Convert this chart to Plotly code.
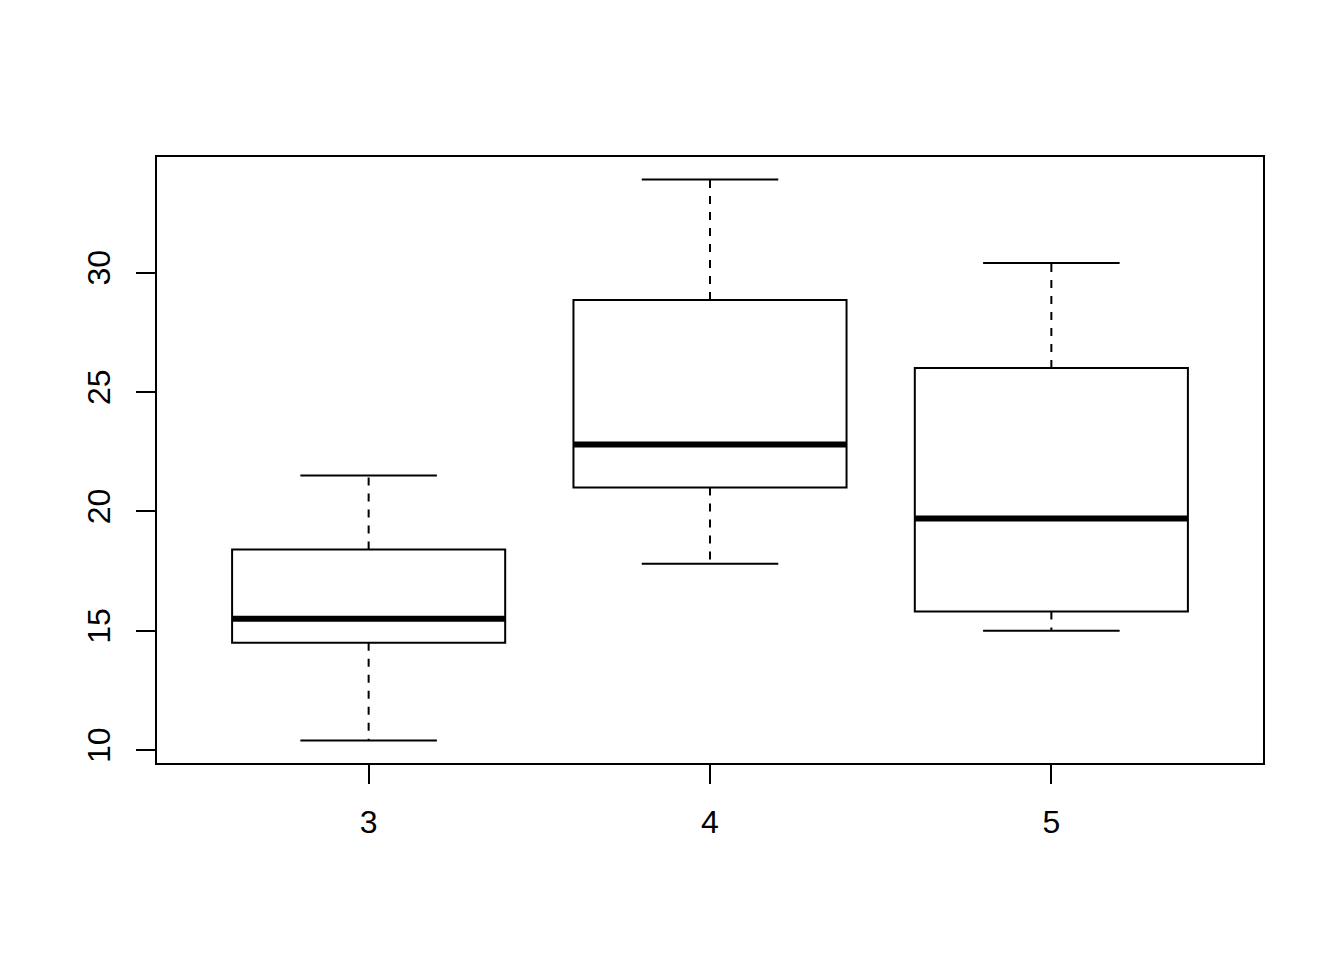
import plotly.graph_objects as go

# Data: mpg by number of gears (five-number summaries)
gears = ["3", "4", "5"]
mins = [10.4, 17.8, 15.0]
q1s = [14.5, 21.0, 15.8]
medians = [15.5, 22.8, 19.7]
q3s = [18.4, 28.85, 26.0]
maxs = [21.5, 33.9, 30.4]
yticks = [10, 15, 20, 25, 30]

pos = [1, 2, 3]
half_box = 0.4
half_cap = 0.2
black = "black"

fig = go.Figure()

for i, p in enumerate(pos):
    # box (no whiskers: fences at quartiles)
    fig.add_trace(go.Box(
        x=[p], q1=[q1s[i]], median=[medians[i]], q3=[q3s[i]],
        lowerfence=[q1s[i]], upperfence=[q3s[i]],
        width=2 * half_box, whiskerwidth=0,
        line=dict(color=black, width=2), fillcolor="white",
        showlegend=False, hoverinfo="skip",
    ))
    # dashed whiskers
    fig.add_trace(go.Scatter(
        x=[p, p, None, p, p], y=[q3s[i], maxs[i], None, q1s[i], mins[i]],
        mode="lines", line=dict(color=black, width=2, dash="8px,8px"),
        showlegend=False, hoverinfo="skip",
    ))
    # staples
    fig.add_trace(go.Scatter(
        x=[p - half_cap, p + half_cap, None, p - half_cap, p + half_cap],
        y=[maxs[i], maxs[i], None, mins[i], mins[i]],
        mode="lines", line=dict(color=black, width=2),
        showlegend=False, hoverinfo="skip",
    ))
    # thick median
    fig.add_trace(go.Scatter(
        x=[p - half_box, p + half_box], y=[medians[i], medians[i]],
        mode="lines", line=dict(color=black, width=6),
        showlegend=False, hoverinfo="skip",
    ))

axis_common = dict(
    showgrid=False, zeroline=False, showline=True, mirror=True,
    linecolor=black, linewidth=2, ticks="outside", ticklen=19,
    tickwidth=2, tickcolor=black,
    tickfont=dict(family="Liberation Sans, Arial, sans-serif", size=32, color=black),
)

fig.update_layout(
    width=1344, height=960,
    margin=dict(l=149, r=89, t=149, b=205),
    paper_bgcolor="white", plot_bgcolor="white",
    xaxis=dict(range=[0.38, 3.62], tickvals=pos, ticktext=gears,
               ticklabelstandoff=11, **axis_common),
    yaxis=dict(range=[9.46, 34.84], tickvals=yticks,
               ticktext=[str(v) for v in yticks], tickangle=-90,
               ticklabelstandoff=13, **axis_common),
    showlegend=False,
)

fig.write_html("out.html")
